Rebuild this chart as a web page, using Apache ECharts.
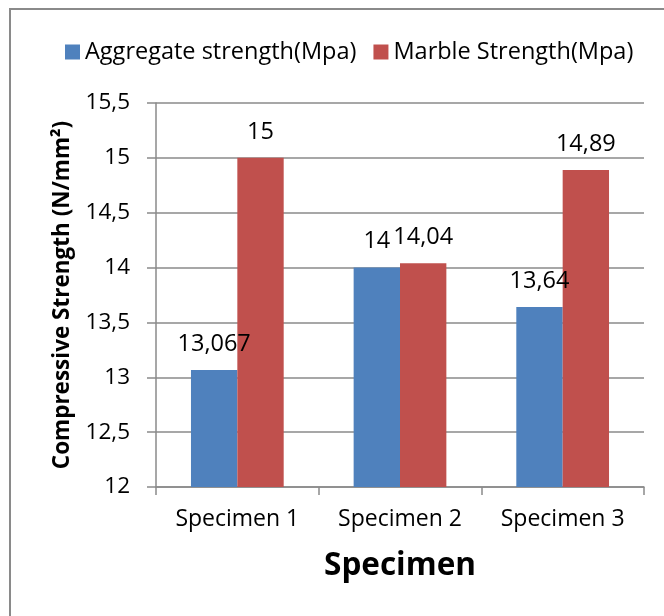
<!DOCTYPE html>
<html>
<head>
<meta charset="utf-8">
<script src="https://cdn.jsdelivr.net/npm/echarts@6/dist/echarts.min.js"></script>
<style>
html,body{margin:0;padding:0;background:#fff;}
#chart{width:664px;height:616px;}
</style>
</head>
<body>
<div id="chart"></div>
<script>
const categories = ['Specimen 1', 'Specimen 2', 'Specimen 3'];
const aggregateStrength = [13.067, 14, 13.64];
const marbleStrength = [15, 14.04, 14.89];
const seriesNames = ['Aggregate strength(Mpa)', 'Marble Strength(Mpa)'];
const yMin = 12, yMax = 15.5, yStep = 0.5;
const xTitle = 'Specimen';
const yTitle = 'Compressive Strength (N/mm²)';

const FONT = 'Open Sans';
const comma = v => String(v).replace('.', ',');

const chart = echarts.init(document.getElementById('chart'), null, {renderer: 'canvas'});
const labelStyle = {
  show: true, position: 'top', distance: 14,
  fontFamily: FONT, fontSize: 23.5, color: '#000',
  formatter: p => comma(p.value)
};
chart.setOption({
  animation: false,
  backgroundColor: '#fff',
  textStyle: {fontFamily: FONT},
  graphic: [{
    type: 'rect', silent: true, z: -1,
    shape: {x: 10, y: 9, width: 720, height: 720},
    style: {fill: 'none', stroke: '#8a8a8a', lineWidth: 2}
  }],
  legend: {
    left: 60, top: 35,
    itemWidth: 15, itemHeight: 15, itemGap: 17,
    icon: 'rect',
    textStyle: {fontFamily: FONT, fontSize: 23.5, color: '#000'},
    data: seriesNames
  },
  grid: {left: 156, right: 20, top: 103, bottom: 129, containLabel: false},
  xAxis: {
    type: 'category', data: categories,
    name: xTitle, nameLocation: 'middle', nameGap: 63,
    nameTextStyle: {fontFamily: FONT, fontSize: 31.5, fontWeight: 'bold', color: '#000'},
    axisLine: {lineStyle: {color: '#8a8a8a', width: 1.5}},
    axisTick: {show: true, length: 8, alignWithLabel: false, lineStyle: {color: '#8a8a8a', width: 1.5}},
    axisLabel: {fontFamily: FONT, fontSize: 23, color: '#000', margin: 21}
  },
  yAxis: {
    type: 'value', min: yMin, max: yMax, interval: yStep,
    name: yTitle, nameLocation: 'middle', nameGap: 82, nameRotate: 90,
    nameTextStyle: {fontFamily: FONT, fontSize: 22.5, fontWeight: 'bold', color: '#000'},
    axisLine: {show: true, lineStyle: {color: '#8a8a8a', width: 1.5}},
    axisTick: {show: true, length: 9, lineStyle: {color: '#8a8a8a', width: 1.5}},
    splitLine: {show: true, lineStyle: {color: '#8a8a8a', width: 1.5}},
    axisLabel: {fontFamily: FONT, fontSize: 22.5, color: '#000', margin: 26, formatter: v => comma(v)}
  },
  series: [
    {name: seriesNames[0], type: 'bar', data: aggregateStrength, barGap: '0%', barCategoryGap: '43%',
     itemStyle: {color: '#4F81BD'}, label: labelStyle},
    {name: seriesNames[1], type: 'bar', data: marbleStrength, barGap: '0%', barCategoryGap: '43%',
     itemStyle: {color: '#C0504D'}, label: labelStyle}
  ]
});
</script>
</body>
</html>
